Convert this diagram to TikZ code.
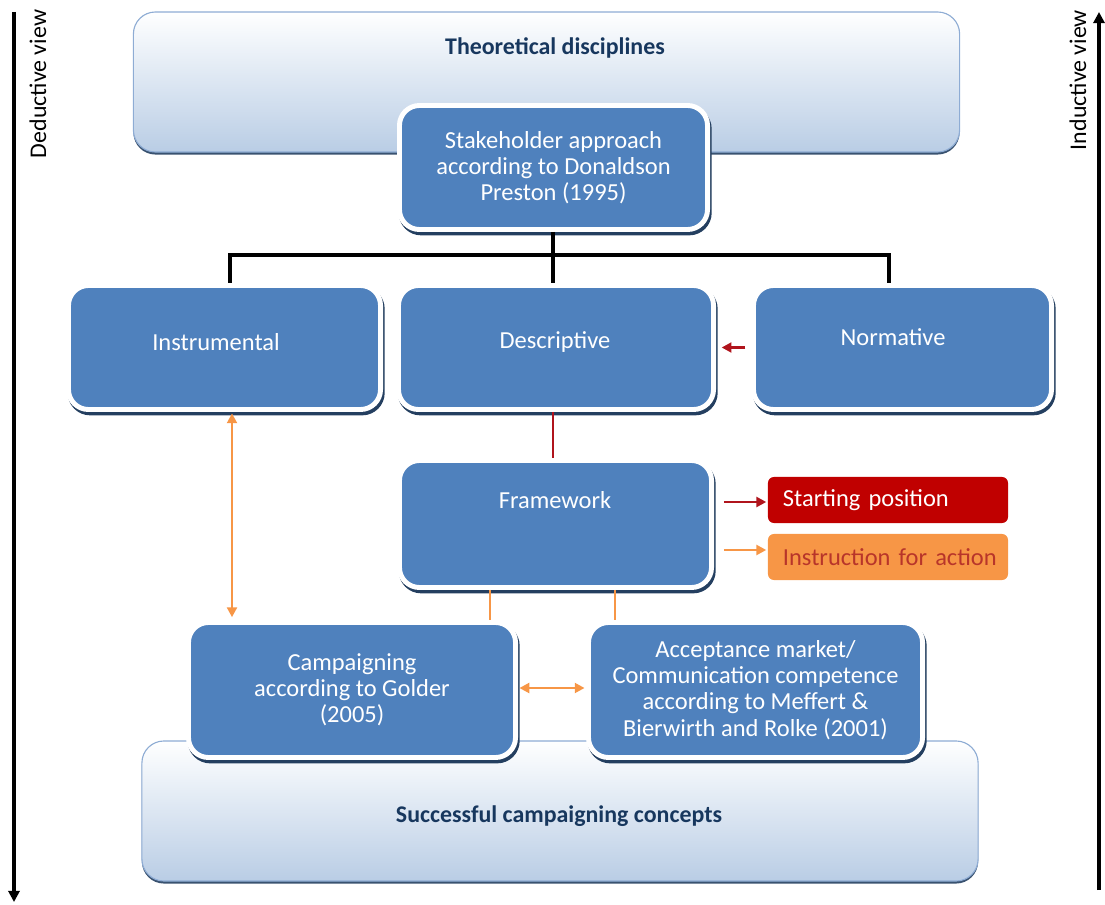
\documentclass[tikz,border=0pt]{standalone}
\usepackage{fontspec}
\setmainfont{Carlito}
\usetikzlibrary{arrows.meta,shadows,calc}
\definecolor{boxblue}{HTML}{4F81BD}
\definecolor{shadownavy}{HTML}{243F60}
\definecolor{panelblue}{HTML}{B9CDE5}
\definecolor{paneledge}{HTML}{8EACD4}
\definecolor{titlenavy}{HTML}{17375E}
\definecolor{darkred}{HTML}{B0141C}
\definecolor{startred}{HTML}{C00000}
\definecolor{actorange}{HTML}{F79646}
\definecolor{acttext}{HTML}{B8352A}

\tikzset{
  bluebox/.style={rectangle, rounded corners=0.5cm, fill=boxblue, draw=white,
    line width=3.5pt, text=white, font=\fontsize{17.4}{18.6}\selectfont,
    align=center, inner sep=2pt,
    drop shadow={shadow xshift=1.2pt, shadow yshift=-2.4pt, fill=shadownavy,
      draw=shadownavy, line width=3.5pt, opacity=1}},
  boxtext/.style={text=white, font=\fontsize{17.4}{18.6}\selectfont, align=center},
  panel/.style={rectangle, rounded corners=0.55cm, top color=white,
    bottom color=panelblue, draw=paneledge, line width=0.8pt,
    drop shadow={shadow xshift=0pt, shadow yshift=-1.8pt, fill=shadownavy, opacity=0.9}},
  paneltitle/.style={text=titlenavy, font=\fontsize{17}{19}\selectfont\bfseries},
  tagbox/.style={rectangle, rounded corners=0.15cm, minimum width=6cm,
    minimum height=1.15cm, text width=5.25cm, inner xsep=0.375cm, align=left,
    font=\fontsize{17.4}{18.6}\selectfont},
  tree/.style={draw=black, line width=2.3pt},
  redlink/.style={draw=darkred, line width=2.1pt},
  orangelink/.style={draw=actorange, line width=2.1pt},
  tipred/.style={-{Triangle[length=7pt,width=7pt]}},
  tipboth/.style={{Triangle[length=7pt,width=7pt]}-{Triangle[length=7pt,width=7pt]}},
  sidearrow/.style={draw=black, line width=2.2pt, -{Triangle[length=8pt,width=8pt]}},
  sidelabel/.style={rotate=90, font=\fontsize{17}{19}\selectfont, text=black}
}

\begin{document}
\begin{tikzpicture}[x=0.025cm, y=-0.025cm]
  \useasboundingbox (0,0) rectangle (1105,905);

  % background panels
  \node[panel, minimum width=20.65cm, minimum height=3.5cm] (theo) at (546.5,82) {};
  \node[paneltitle] (theoText) at (555,48) {Theoretical disciplines};
  \node[panel, minimum width=20.9cm, minimum height=3.5cm] (succ) at (560,811) {};
  \node[paneltitle] (succText) at (559,816) {Successful campaigning concepts};

  % stakeholder approach and its three branches
  \node[bluebox, minimum width=7.7cm, minimum height=3.1cm] (stake) at (553.5,167.5)
    {Stakeholder approach\\according to Donaldson\\Preston (1995)};
  \node[bluebox, minimum width=7.8cm, minimum height=3.1cm] (instr) at (224.5,347.5) {};
  \node[boxtext] (instrText) at (216,342) {Instrumental};
  \node[bluebox, minimum width=7.875cm, minimum height=3.1cm] (descr) at (556,347.5) {};
  \node[boxtext] (descrText) at (555,342) {Descriptive};
  \node[bluebox, minimum width=7.45cm, minimum height=3.1cm] (norm) at (902.5,347.5) {};
  \node[boxtext] (normText) at (893,337) {Normative};

  % framework
  \node[bluebox, minimum width=7.8cm, minimum height=3.175cm] (frame) at (555.5,524) {};
  \node[boxtext] (frameText) at (555,500) {Framework};

  % legend tags
  \node[tagbox, fill=startred, text=white] (start) at (888,500) {\mbox{Starting position}};
  \node[tagbox, fill=actorange, text=acttext] (action) at (888,557) {\mbox{Instruction for action}};

  % lower boxes
  \node[bluebox, minimum width=8.175cm, minimum height=3.375cm] (camp) at (352,690)
    {Campaigning\\according to Golder\\(2005)};
  \node[bluebox, minimum width=8.35cm, minimum height=3.375cm] (accept) at (755.5,690)
    {Acceptance market/\\Communication competence\\according to Meffert \&\\Bierwirth and Rolke (2001)};

  % tree below the stakeholder approach
  \coordinate (jn) at (553,255);
  \coordinate (jl) at (230,255);
  \coordinate (jr) at (889,255);
  \draw[tree] (stake.south -| jn) -- (jn);
  \draw[tree, line cap=rect] (jl) -- (jr);
  \draw[tree] (jl) -- (jl |- instr.north);
  \draw[tree] (jn) -- (jn |- descr.north);
  \draw[tree] (jr) -- (jr |- norm.north);

  % red connections
  \draw[redlink, tipred, shorten <=4pt, shorten >=4pt] (norm.west) -- (descr.east);
  \draw[redlink] (descr.south -| jn) -- (frame.north -| jn);
  \coordinate (sp) at (0,502);
  \draw[redlink, tipred, shorten <=7pt, shorten >=1pt] (frame.east |- sp) -- (start.west |- sp);
  \coordinate (ia) at (0,550);
  \draw[orangelink, tipred, shorten <=7pt, shorten >=1pt] (frame.east |- ia) -- (action.west |- ia);

  % orange connections
  \coordinate (ox) at (232,0);
  \draw[orangelink, tipboth, shorten <=1pt, shorten >=2pt] (ox |- instr.south) -- (ox |- camp.north);
  \coordinate (o1) at (490,0);
  \coordinate (o2) at (615,0);
  \draw[orangelink] (o1 |- frame.south) -- (o1 |- camp.north);
  \draw[orangelink] (o2 |- frame.south) -- (o2 |- accept.north);
  \coordinate (oh) at (0,688);
  \draw[orangelink, tipboth, shorten <=1pt, shorten >=1pt] (camp.east |- oh) -- (accept.west |- oh);

  % side axes
  \coordinate (dtop) at (14,12);
  \coordinate (dbot) at (14,902);
  \draw[sidearrow] (dtop) -- (dbot);
  \node[sidelabel] (deduct) at (38,84) {Deductive view};
  \coordinate (itop) at (1099,12);
  \coordinate (ibot) at (1099,890);
  \draw[sidearrow] (ibot) -- (itop);
  \node[sidelabel] (induct) at (1078,80) {Inductive view};
\end{tikzpicture}
\end{document}
